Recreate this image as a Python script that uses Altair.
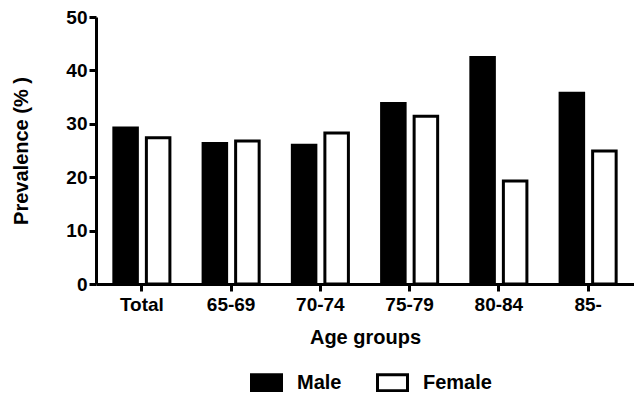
import altair as alt
import pandas as pd

groups = ["Total", "65-69", "70-74", "75-79", "80-84", "85-"]
male = [29.2, 26.3, 26.0, 33.8, 42.4, 35.7]
female = [27.4, 26.8, 28.3, 31.4, 19.3, 24.9]
sexes = ["Male", "Female"]
y_ticks = [0, 10, 20, 30, 40, 50]

rows = []
for g, m, f in zip(groups, male, female):
    rows.append({"group": g, "sex": "Male", "value": m})
    rows.append({"group": g, "sex": "Female", "value": f})
df = pd.DataFrame(rows)

FONT = "Liberation Sans"

chart = alt.Chart(df).mark_bar(stroke="black", strokeWidth=3).encode(
    x=alt.X("group:N", sort=groups,
            scale=alt.Scale(paddingInner=0.372, paddingOuter=0.2),
            axis=alt.Axis(title="Age groups", labelAngle=0, labelPadding=4, titlePadding=13)),
    xOffset=alt.XOffset("sex:N", sort=sexes, scale=alt.Scale(paddingInner=0.277)),
    y=alt.Y("value:Q", scale=alt.Scale(domain=[0, 50], nice=False),
            axis=alt.Axis(values=y_ticks, title="Prevalence (% )", labelPadding=2, titlePadding=34)),
    fill=alt.Fill("sex:N", sort=sexes,
                  scale=alt.Scale(domain=sexes, range=["black", "white"]),
                  legend=alt.Legend(orient="none", legendX=154, legendY=349, direction="horizontal",
                                    title=None, symbolType="M-1,-0.533L1,-0.533L1,0.533L-1,0.533Z",
                                    symbolSize=900, symbolStrokeColor="black", symbolStrokeWidth=3,
                                    symbolOpacity=1, labelFont=FONT, labelFontSize=20,
                                    labelFontWeight="bold", labelColor="black", labelOffset=14,
                                    columnPadding=29, padding=0))
).properties(
    width=538, height=267,
    autosize="none",
    padding={"left": 88, "top": 9, "right": 0, "bottom": 108},
    background="white"
).configure_view(stroke=None).configure_axis(
    grid=False,
    domainColor="black", domainWidth=3,
    tickColor="black", tickWidth=3, tickSize=7,
    labelFont=FONT, labelFontSize=19, labelFontWeight="bold", labelColor="black",
    titleFont=FONT, titleFontSize=20, titleFontWeight="bold", titleColor="black",
)

chart.save("out.html", embed_options={"renderer": "svg", "actions": False})
